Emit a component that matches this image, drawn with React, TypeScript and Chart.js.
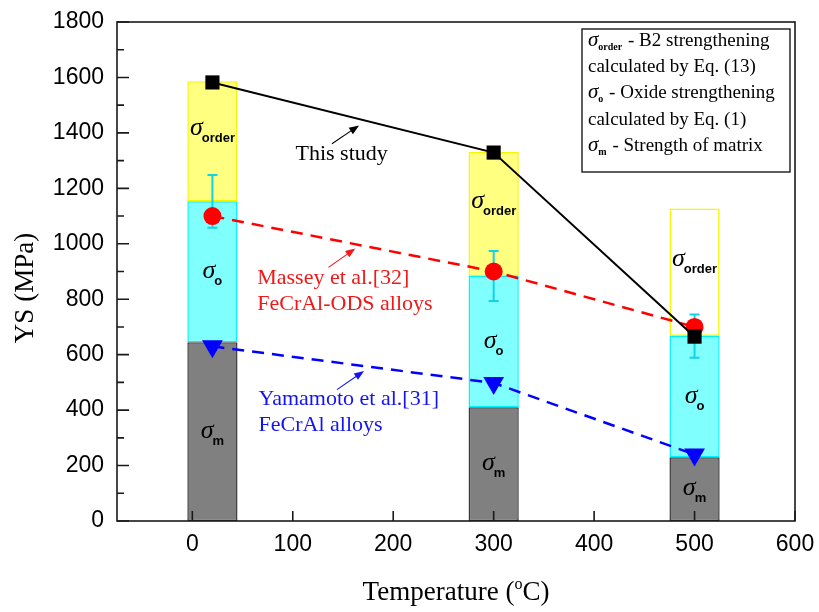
import { useEffect, useRef } from 'react';
import { Chart, registerables } from 'chart.js';

Chart.register(...registerables);

// ---------------- data ----------------
const temperatures = [20, 300, 500];
const matrixStrength = [645, 410, 230];
const oxideStrength = [508, 474, 437];
const orderStrength = [433, 447, 460];
const oxideError = [95, 90, 78];
const thisStudyYS = [1582, 1329, 665];
const masseyYS = [1100, 900, 700];
const yamamotoYS = [630, 498, 240];
const xTickValues = [0, 100, 200, 300, 400, 500, 600];
const yTickValues = [0, 200, 400, 600, 800, 1000, 1200, 1400, 1600, 1800];
const yMinorValues = [100, 300, 500, 700, 900, 1100, 1300, 1500, 1700];
const segmentSubs = ['m', 'o', 'order'];

// annotation texts (anchored in data coordinates)
const notes = [
  { lines: ['This study'], color: '#000000', x: 102.7, y: 1301, arrow: [139, 1361, 166, 1427] },
  { lines: ['Massey et al.[32]', 'FeCrAl-ODS alloys'], color: '#f01818', x: 64.6, y: 856, arrow: [135.5, 915, 162.3, 983] },
  { lines: ['Yamamoto et al.[31]', 'FeCrAl alloys'], color: '#1414f0', x: 65.9, y: 417, arrow: [144, 474, 171, 541] },
];

const legendRows: [string | null, string][] = [
  ['order', ' - B2 strengthening'],
  [null, 'calculated by Eq. (13)'],
  ['o', ' - Oxide strengthening'],
  [null, 'calculated by Eq. (1)'],
  ['m', ' - Strength of matrix'],
];

const SERIF = '"Liberation Serif", "Times New Roman", serif';
const SANS = '"Liberation Sans", Arial, sans-serif';

function drawArrow(ctx: CanvasRenderingContext2D, x1: number, y1: number, x2: number, y2: number, color: string) {
  const ang = Math.atan2(y2 - y1, x2 - x1);
  const hl = 10, hw = 3.8;
  ctx.save();
  ctx.strokeStyle = color;
  ctx.fillStyle = color;
  ctx.lineWidth = 1.1;
  ctx.beginPath();
  ctx.moveTo(x1, y1);
  ctx.lineTo(x2 - Math.cos(ang) * hl * 0.8, y2 - Math.sin(ang) * hl * 0.8);
  ctx.stroke();
  ctx.beginPath();
  ctx.moveTo(x2, y2);
  ctx.lineTo(x2 - Math.cos(ang) * hl - Math.sin(ang) * hw, y2 - Math.sin(ang) * hl + Math.cos(ang) * hw);
  ctx.lineTo(x2 - Math.cos(ang) * hl + Math.sin(ang) * hw, y2 - Math.sin(ang) * hl - Math.cos(ang) * hw);
  ctx.closePath();
  ctx.fill();
  ctx.restore();
}

const decorPlugin = {
  id: 'decor',
  afterDatasetDraw(chart: any, args: any) {
    const ctx: CanvasRenderingContext2D = chart.ctx;
    const xs = chart.scales.x;
    const ys = chart.scales.y;
    if (args.index === 1) {
      // error bars on the oxide segment
      ctx.save();
      ctx.strokeStyle = '#12d2e6';
      ctx.lineWidth = 2;
      temperatures.forEach((t, i) => {
        const top = matrixStrength[i] + oxideStrength[i];
        const px = xs.getPixelForValue(t);
        const y1 = ys.getPixelForValue(top + oxideError[i]);
        const y2 = ys.getPixelForValue(top - oxideError[i]);
        ctx.beginPath();
        ctx.moveTo(px, y1); ctx.lineTo(px, y2);
        ctx.moveTo(px - 5, y1); ctx.lineTo(px + 5, y1);
        ctx.moveTo(px - 5, y2); ctx.lineTo(px + 5, y2);
        ctx.stroke();
      });
      ctx.restore();
    }
    if (args.index === 0) {
      // sigma labels inside the stacked segments
      ctx.save();
      temperatures.forEach((t, i) => {
        const bounds = [0, matrixStrength[i], matrixStrength[i] + oxideStrength[i], matrixStrength[i] + oxideStrength[i] + orderStrength[i]];
        const fracs = [0.5, 0.5, 0.6];
        segmentSubs.forEach((sub, k) => {
          const lo = bounds[k], hi = bounds[k + 1];
          const py = ys.getPixelForValue(lo + (hi - lo) * fracs[k]);
          const cx = xs.getPixelForValue(t);
          ctx.font = `italic 26px ${SERIF}`;
          const w1 = ctx.measureText('σ').width;
          ctx.font = `bold 13px ${SANS}`;
          const w2 = ctx.measureText(sub).width;
          const total = w1 - 1 + w2;
          const sx = cx - total / 2;
          const base = py + 6;
          ctx.fillStyle = '#000';
          ctx.textBaseline = 'alphabetic';
          ctx.textAlign = 'left';
          ctx.font = `italic 26px ${SERIF}`;
          ctx.fillText('σ', sx, base);
          ctx.font = `bold 13px ${SANS}`;
          ctx.fillText(sub, sx + w1 - 1, base + 7);
        });
      });
      ctx.restore();
    }
  },
  afterDraw(chart: any) {
    const ctx: CanvasRenderingContext2D = chart.ctx;
    const xs = chart.scales.x;
    const ys = chart.scales.y;
    const { left, right, top, bottom } = chart.chartArea;
    ctx.save();
    // frame
    ctx.strokeStyle = '#1a1a1a';
    ctx.lineWidth = 1.6;
    ctx.strokeRect(left, top, right - left, bottom - top);
    // ticks (inward)
    ctx.beginPath();
    yTickValues.forEach((v) => {
      const p = ys.getPixelForValue(v);
      ctx.moveTo(left, p); ctx.lineTo(left + 12, p);
    });
    yMinorValues.forEach((v) => {
      const p = ys.getPixelForValue(v);
      ctx.moveTo(left, p); ctx.lineTo(left + 7, p);
    });
    xTickValues.forEach((v) => {
      const p = xs.getPixelForValue(v);
      ctx.moveTo(p, bottom); ctx.lineTo(p, bottom - 10);
    });
    ctx.stroke();

    // axis titles
    ctx.fillStyle = '#000';
    ctx.textBaseline = 'alphabetic';
    ctx.textAlign = 'left';
    ctx.font = `27px ${SERIF}`;
    const a = 'Temperature (';
    const c = 'C)';
    const wa = ctx.measureText(a).width;
    const wc = ctx.measureText(c).width;
    ctx.font = `16px ${SERIF}`;
    const wo = ctx.measureText('o').width;
    const tx = (left + right) / 2 - (wa + wo + wc) / 2;
    ctx.font = `27px ${SERIF}`;
    ctx.fillText(a, tx, 600);
    ctx.font = `16px ${SERIF}`;
    ctx.fillText('o', tx + wa, 589);
    ctx.font = `27px ${SERIF}`;
    ctx.fillText(c, tx + wa + wo, 600);

    ctx.save();
    ctx.translate(33, 288);
    ctx.rotate(-Math.PI / 2);
    ctx.textAlign = 'center';
    ctx.font = `27px ${SERIF}`;
    ctx.fillText('YS (MPa)', 0, 0);
    ctx.restore();

    // annotations
    notes.forEach((n) => {
      ctx.fillStyle = n.color;
      ctx.font = `22px ${SERIF}`;
      ctx.textAlign = 'left';
      const px = xs.getPixelForValue(n.x);
      const py = ys.getPixelForValue(n.y);
      n.lines.forEach((ln, k) => ctx.fillText(ln, px, py + k * 26));
      const [ax1, ay1, ax2, ay2] = n.arrow;
      drawArrow(ctx, xs.getPixelForValue(ax1), ys.getPixelForValue(ay1), xs.getPixelForValue(ax2), ys.getPixelForValue(ay2), n.color);
    });

    // legend box
    const bx1 = right - 213, bx2 = right - 5, by1 = top + 7, by2 = top + 150;
    ctx.fillStyle = '#fff';
    ctx.fillRect(bx1, by1, bx2 - bx1, by2 - by1);
    ctx.strokeStyle = '#1a1a1a';
    ctx.lineWidth = 1.4;
    ctx.strokeRect(bx1, by1, bx2 - bx1, by2 - by1);
    ctx.fillStyle = '#000';
    const baselines = [24, 50, 76, 103, 129];
    legendRows.forEach(([sub, txt], k) => {
      let x = bx1 + 6;
      const b = top + baselines[k];
      if (sub) {
        ctx.font = `italic 21px ${SERIF}`;
        ctx.fillText('σ', x, b);
        x += ctx.measureText('σ').width;
        ctx.font = `bold 10px ${SERIF}`;
        ctx.fillText(sub, x, b + 4);
        x += ctx.measureText(sub).width + 1;
      }
      ctx.font = `19px ${SERIF}`;
      ctx.fillText(txt, x, b);
    });
    ctx.restore();
  },
};

export default function App() {
  const ref = useRef<HTMLCanvasElement | null>(null);
  useEffect(() => {
    if (!ref.current) return;
    const pts = (ys: number[]) => temperatures.map((t, i) => ({ x: t, y: ys[i] }));
    const barCommon = {
      type: 'bar' as const,
      borderWidth: 1.5,
      borderSkipped: false,
      stack: 'bars',
      barPercentage: 0.5,
      categoryPercentage: 1,
    };
    const chart = new Chart(ref.current, {
      type: 'bar',
      data: {
        datasets: [
          { ...barCommon, label: 'σm', data: pts(matrixStrength), backgroundColor: '#808080', borderColor: '#3a3a3a', order: 3 },
          { ...barCommon, label: 'σo', data: pts(oxideStrength), backgroundColor: '#80ffff', borderColor: '#00f0ff', order: 4 },
          { ...barCommon, label: 'σorder', data: pts(orderStrength), backgroundColor: ['#ffff80', '#ffff80', 'rgba(255,255,255,0)'], borderColor: '#f6f600', order: 5 },
          { type: 'line', label: 'This study', data: pts(thisStudyYS), borderColor: '#000', backgroundColor: '#000', borderWidth: 2, pointStyle: 'rect', pointRadius: 10, pointBorderWidth: 0, pointBackgroundColor: '#000', tension: 0, stack: 's1', order: 0 },
          { type: 'line', label: 'Massey', data: pts(masseyYS), borderColor: '#ff0000', backgroundColor: '#ff0000', borderWidth: 2.5, borderDash: [12, 8], pointStyle: 'circle', pointRadius: 9, pointBorderWidth: 0, pointBackgroundColor: '#ff0000', tension: 0, stack: 's2', order: 1 },
          { type: 'line', label: 'Yamamoto', data: pts(yamamotoYS), borderColor: '#0000ff', backgroundColor: '#0000ff', borderWidth: 2.5, borderDash: [12, 8], pointStyle: 'triangle', pointRotation: 180, pointRadius: 12, pointBorderWidth: 0, pointBackgroundColor: '#0000ff', tension: 0, stack: 's3', order: 2 },
        ] as any,
      },
      options: {
        animation: false,
        responsive: false,
        maintainAspectRatio: false,
        layout: { padding: { top: 22, right: 24, left: 0, bottom: 0 } },
        plugins: { legend: { display: false }, tooltip: { enabled: false } },
        scales: {
          x: {
            type: 'linear',
            min: -75,
            max: 600,
            offset: false,
            grid: { display: false, drawTicks: false, offset: false },
            border: { display: false },
            ticks: { font: { family: SANS, size: 23 }, color: '#000', padding: 10, callback: (v: any) => String(v) },
            afterBuildTicks: (s: any) => { s.ticks = xTickValues.map((v) => ({ value: v })); },
            afterFit: (s: any) => { s.height = 91; s.paddingLeft = 0; s.paddingRight = 0; },
          },
          y: {
            type: 'linear',
            min: 0,
            max: 1800,
            stacked: true,
            grid: { display: false, drawTicks: false },
            border: { display: false },
            ticks: { font: { family: SANS, size: 23 }, color: '#000', padding: 13, callback: (v: any) => String(v) },
            afterBuildTicks: (s: any) => { s.ticks = yTickValues.map((v) => ({ value: v })); },
            afterFit: (s: any) => { s.width = 117; s.paddingTop = 0; s.paddingBottom = 0; },
          },
        },
      } as any,
      plugins: [decorPlugin as any],
    });
    return () => chart.destroy();
  }, []);
  return (
    <div style={{ position: 'fixed', left: 0, top: 0, width: 819, height: 612, background: '#fff' }}>
      <canvas ref={ref} width={819} height={612} style={{ display: 'block' }} />
    </div>
  );
}
